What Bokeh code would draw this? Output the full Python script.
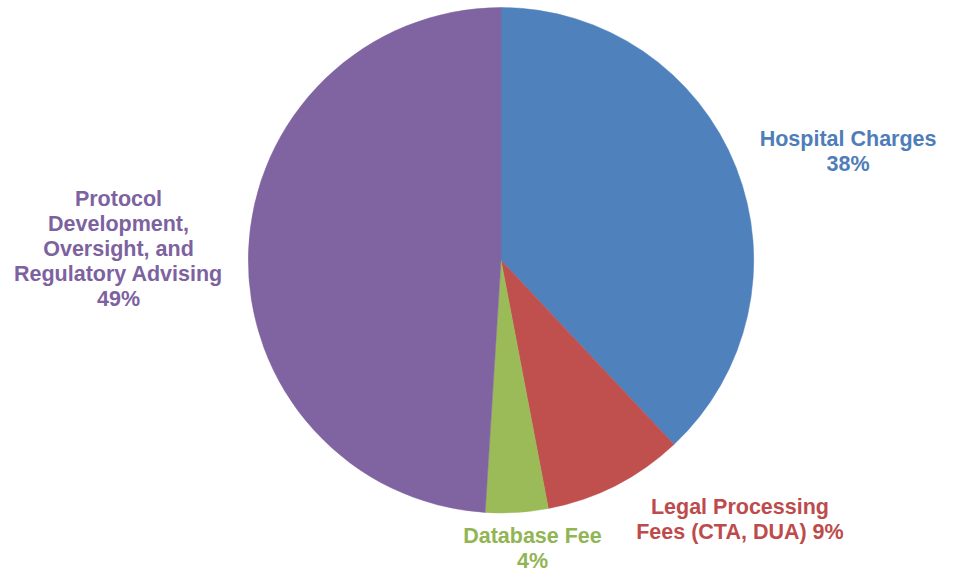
import math
from bokeh.plotting import figure
from bokeh.models import ColumnDataSource, Range1d
from bokeh.embed import file_html
from bokeh.resources import INLINE
from bokeh.core.properties import value

# ---- data ----
categories = ["Hospital Charges", "Legal Processing Fees (CTA, DUA)", "Database Fee",
              "Protocol Development, Oversight, and Regulatory Advising"]
percents = [38, 9, 4, 49]
colors = ["#4F81BD", "#C0504D", "#9BBB59", "#8064A2"]
label_colors = ["#4F7DB9", "#BE4B4B", "#92B554", "#7D62A0"]
# label text split into lines (last line gets the percentage)
label_lines = [
    ["Hospital Charges", "{p}%"],
    ["Legal Processing", "Fees (CTA, DUA) {p}%"],
    ["Database Fee", "{p}%"],
    ["Protocol", "Development,", "Oversight, and", "Regulatory Advising", "{p}%"],
]

# ---- layout (reference-frame pixel coords; y measured from top) ----
W, H = 942, 572
REF_W, REF_H = 958, 588
cx, cy, r = 509, 267, 257
anchors = [(862, 142), (752, 521), (541, 550), (120, 204)]
line_gap = 25.8

def fy(y_img):
    return REF_H - y_img

total = sum(percents)
starts, ends = [], []
cum = 0.0
for pc in percents:
    a0 = math.pi / 2 - 2 * math.pi * cum / total
    cum += pc
    a1 = math.pi / 2 - 2 * math.pi * cum / total
    starts.append(a0)
    ends.append(a1)

wedge_src = ColumnDataSource(dict(cat=categories, pct=percents, start=starts, end=ends,
                                  color=colors))

p = figure(width=W, height=H, output_backend="svg", toolbar_location=None,
           x_range=Range1d(0, REF_W), y_range=Range1d(0, REF_H),
           min_border=0, outline_line_color=None)
p.axis.visible = False
p.grid.visible = False
p.background_fill_color = "white"
p.border_fill_color = "white"

p.wedge(x=cx, y=fy(cy), radius=r, start_angle="start", end_angle="end",
        direction="clock", fill_color="color", line_color="color", line_width=0.5,
        source=wedge_src)

tx, ty, tt, tc = [], [], [], []
for i, lines in enumerate(label_lines):
    ax, ay = anchors[i]
    for j, ln in enumerate(lines):
        tx.append(ax)
        ty.append(fy(ay + j * line_gap))
        tt.append(ln.format(p=percents[i]))
        tc.append(label_colors[i])

p.text(x=tx, y=ty, text=tt, text_color=tc, text_align="center", text_baseline="middle",
       text_font=value("Liberation Sans"), text_font_style="bold", text_font_size="21.5px")

open("out.html", "w").write(file_html(p, INLINE))
